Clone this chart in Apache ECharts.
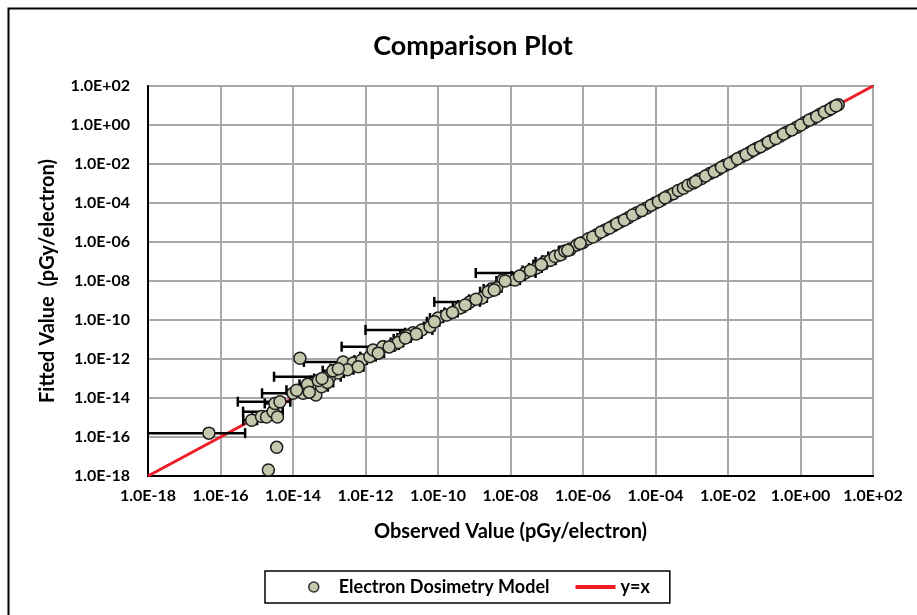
<!DOCTYPE html>
<html>
<head>
<meta charset="utf-8">
<script src="https://cdn.jsdelivr.net/npm/echarts@6/dist/echarts.min.js"></script>
<style>
html,body{margin:0;padding:0;background:#fff;}
#chart{width:917px;height:615px;}
</style>
</head>
<body>
<div id="chart"></div>
<script>
// Observed values (pGy/electron)
const observed = [
  4.79e-17, 7.24e-16, 1.35e-15, 1.86e-15, 2.82e-15, 3.16e-15, 4.37e-15, 3.72e-15,
  1.0e-14, 1.91e-14, 3.55e-14, 4.27e-14, 3.55e-15, 2.09e-15, 1.55e-14,
  1.05e-13, 1.74e-13, 6.17e-14, 2.40e-13, 4.57e-13, 7.94e-13, 1.32e-12, 1.62e-12,
  3.02e-12, 5.75e-12, 1.0e-11, 2.04e-11, 3.55e-11, 6.03e-11, 1.0e-10, 1.74e-10,
  4.07e-10, 7.59e-10, 1.62e-9, 3.02e-9, 6.17e-9, 1.32e-8, 2.51e-8, 5.25e-8,
  1.26e-14, 2.51e-14, 5.01e-14, 8.91e-14, 1.26e-13, 3.16e-13, 6.31e-13, 2.24e-12,
  7.94e-12, 1.41e-11, 2.51e-11, 4.17e-9, 2.45e-9, 7.08e-9,
  8.91e-8, 1.26e-7, 1.70e-7, 2.40e-7, 3.16e-7, 4.47e-7, 6.76e-7, 1.0e-6, 1.41e-6,
  2.40e-6, 4.07e-6, 6.92e-6, 1.05e-5, 1.78e-5, 3.02e-5, 5.75e-5, 9.77e-5, 1.48e-4,
  2.24e-4, 3.09e-4, 4.27e-4, 5.89e-4, 7.94e-4, 1.10e-3, 1.51e-3, 1.86e-3, 3.16e-3,
  5.37e-3, 8.32e-3, 1.41e-2, 2.40e-2, 4.07e-2, 6.17e-2, 1.05e-1, 1.58e-1, 2.69e-1,
  4.17e-1, 7.94e-1, 1.32, 2.24, 3.47, 5.89, 8.13, 11.0,
  3.80e-7, 8.32e-7, 1.86e-6, 3.16e-6, 5.37e-6, 8.51e-6, 1.38e-5, 2.34e-5, 4.17e-5,
  7.59e-5, 1.20e-4, 1.82e-4, 1.29e-3, 2.40e-3, 4.17e-3, 6.61e-3, 1.10e-2, 1.82e-2,
  3.16e-2, 5.01e-2, 7.94e-2, 1.29e-1, 2.09e-1, 3.39e-1, 5.75e-1, 1.02, 1.74, 2.82,
  4.57, 6.92, 9.55,
  1.12e-9, 3.55e-9, 1.78e-8, 3.55e-8, 7.08e-8,
  4.47e-12, 1.26e-11, 7.94e-11, 2.51e-10, 5.62e-10,
  2.82e-14, 6.31e-14, 1.78e-13
];
// Fitted values (pGy/electron)
const fitted = [
  1.58e-16, 7.24e-16, 1.12e-15, 1.05e-15, 2.0e-15, 5.25e-15, 6.46e-15, 1.07e-15,
  1.74e-14, 1.74e-14, 3.24e-14, 1.41e-14, 2.95e-17, 2.04e-18, 1.10e-12,
  1.23e-13, 1.91e-13, 3.80e-14, 7.08e-13, 6.17e-13, 8.91e-13, 1.32e-12, 2.88e-12,
  4.27e-12, 5.25e-12, 1.07e-11, 2.24e-11, 3.09e-11, 4.57e-11, 1.26e-10, 1.82e-10,
  4.17e-10, 8.5e-10, 1.35e-9, 3.89e-9, 1.12e-8, 1.12e-8, 2.57e-8, 4.68e-8,
  2.51e-14, 5.01e-14, 7.94e-14, 6.31e-14, 2.51e-13, 2.82e-13, 3.98e-13, 2.0e-12,
  7.08e-12, 1.58e-11, 1.91e-11, 4.47e-9, 2.82e-9, 1.0e-8,
  9.55e-8, 1.17e-7, 1.82e-7, 2.24e-7, 3.47e-7, 4.27e-7, 7.08e-7, 9.55e-7, 1.48e-6,
  2.34e-6, 4.17e-6, 6.76e-6, 1.07e-5, 1.74e-5, 3.09e-5, 5.62e-5, 1.0e-4, 1.45e-4,
  2.29e-4, 3.02e-4, 4.37e-4, 5.75e-4, 8.13e-4, 1.07e-3, 1.55e-3, 1.82e-3, 3.24e-3,
  5.25e-3, 8.51e-3, 1.38e-2, 2.45e-2, 3.98e-2, 6.31e-2, 1.02e-1, 1.62e-1, 2.63e-1,
  4.27e-1, 7.76e-1, 1.35, 2.19, 3.55, 5.75, 8.32, 11.0,
  3.72e-7, 8.51e-7, 1.82e-6, 3.24e-6, 5.25e-6, 8.71e-6, 1.35e-5, 2.40e-5, 4.07e-5,
  7.76e-5, 1.17e-4, 1.86e-4, 1.26e-3, 2.45e-3, 4.07e-3, 6.76e-3, 1.07e-2, 1.86e-2,
  3.09e-2, 5.13e-2, 7.76e-2, 1.32e-1, 2.04e-1, 3.47e-1, 5.62e-1, 1.0, 1.78, 2.75,
  4.68, 6.76, 9.77,
  1.15e-9, 3.47e-9, 1.82e-8, 3.47e-8, 6.92e-8,
  4.17e-12, 1.20e-11, 8.13e-11, 2.45e-10, 5.89e-10,
  2.0e-14, 1.0e-13, 3.16e-13
];
// Uncertainty of observed value (+/-, same units); 0 = no bar
const obsError = [
  4.3e-16, 3.0e-16, 6.0e-16, 0, 2.4e-15, 1.5e-15, 4.07e-15, 0,
  8.6e-15, 8.0e-15, 1.5e-14, 0, 0, 0, 0,
  1.02e-13, 8.0e-14, 3.0e-14, 2.2e-13, 2.0e-13, 3.0e-13, 6.0e-13, 0,
  2.8e-12, 2.5e-12, 4.0e-12, 8.0e-12, 3.45e-11, 2.0e-11, 4.0e-11, 5.0e-11,
  1.5e-10, 6.8e-10, 6.0e-10, 1.2e-9, 0, 5.0e-9, 2.4e-8, 2.0e-8,
  6.0e-15, 1.0e-14, 2.0e-14, 4.0e-14, 6.0e-14, 1.5e-13, 2.5e-13, 1.0e-12,
  3.0e-12, 5.0e-12, 1.0e-11, 1.5e-9, 1.0e-9, 3.0e-9,
  4.0e-8, 5.0e-8, 6.0e-8, 8.0e-8, 1.0e-7, 0, 0, 0, 0,
  0, 0, 0, 0, 0, 0, 0, 0, 0,
  0, 0, 0, 0, 0, 0, 0, 0, 0,
  0, 0, 0, 0, 0, 0, 0, 0, 0,
  0, 0, 0, 0, 0, 0, 0, 0,
  1.5e-7, 0, 0, 0, 0, 0, 0, 0, 0,
  0, 0, 0, 0, 0, 0, 0, 0, 0,
  0, 0, 0, 0, 0, 0, 0, 0, 0, 0,
  0, 0, 0,
  4.0e-10, 1.2e-9, 7.0e-9, 1.4e-8, 2.8e-8,
  1.8e-12, 5.0e-12, 3.0e-11, 1.0e-10, 2.0e-10,
  1.2e-14, 2.5e-14, 7.0e-14
];
// y = x reference line end points
const identityLine = [1e-18, 1e2];
const axisMin = 1e-18, axisMax = 1e2;

const points = observed.map((v, i) => [v, fitted[i]]);
const bars = observed.map((v, i) => [v, fitted[i], obsError[i] || 0]);
const lineData = identityLine.map(v => [v, v]);

function fmt(v) {
  const e = Math.round(Math.log10(v));
  const a = Math.abs(e);
  return '1.0E' + (e < 0 ? '-' : '+') + (a < 10 ? '0' : '') + a;
}

const FONT = 'Lato';
const chart = echarts.init(document.getElementById('chart'), null, {renderer: 'canvas'});
chart.setOption({
  backgroundColor: '#ffffff',
  animation: false,
  title: {
    text: 'Comparison Plot',
    left: 468, top: 28, textAlign: 'center',
    textStyle: {fontFamily: FONT, fontWeight: 'bold', fontSize: 27, color: '#000'}
  },
  graphic: [{
    type: 'rect', left: 6, top: 6, z: 100,
    shape: {width: 960, height: 660},
    style: {fill: 'none', stroke: '#000', lineWidth: 2}
  }],
  legend: {
    left: 265, top: 571,
    padding: [7, 20, 7, 43],
    borderColor: '#000', borderWidth: 1.5,
    itemWidth: 40, itemHeight: 10, itemGap: 26,
    symbolKeepAspect: true,
    textStyle: {fontFamily: FONT, fontWeight: 'bold', fontSize: 18, color: '#000'},
    data: [
      {name: 'Electron Dosimetry Model', icon: 'circle',
       itemStyle: {color: '#c6c8ae', borderColor: '#333', borderWidth: 1.5}},
      {name: 'y=x', icon: 'path://M0,0h40v4h-40z', itemStyle: {color: '#ee1c25'}}
    ]
  },
  grid: {left: 148, right: 44, top: 86, bottom: 139, show: true,
         borderColor: '#000', borderWidth: 2, backgroundColor: 'transparent'},
  xAxis: {
    type: 'log', logBase: 100, min: axisMin, max: axisMax, interval: 1,
    name: 'Observed Value (pGy/electron)', nameLocation: 'middle', nameGap: 46,
    nameTextStyle: {fontFamily: FONT, fontWeight: 'bold', fontSize: 20, color: '#000'},
    axisLine: {lineStyle: {color: '#000', width: 2}},
    axisTick: {show: false},
    axisLabel: {formatter: fmt, margin: 12, showMinLabel: true, showMaxLabel: true,
                fontFamily: FONT, fontWeight: 'bold', fontSize: 16, color: '#000'},
    splitLine: {show: true, lineStyle: {color: '#a8a8a8', width: 2}}
  },
  yAxis: {
    type: 'log', logBase: 100, min: axisMin, max: axisMax, interval: 1,
    name: 'Fitted Value  (pGy/electron)', nameLocation: 'middle', nameGap: 90,
    nameTextStyle: {fontFamily: FONT, fontWeight: 'bold', fontSize: 20, color: '#000'},
    axisLine: {lineStyle: {color: '#000', width: 2}},
    axisTick: {show: false},
    axisLabel: {formatter: fmt, margin: 18, showMinLabel: true, showMaxLabel: true,
                fontFamily: FONT, fontWeight: 'bold', fontSize: 16, color: '#000'},
    splitLine: {show: true, lineStyle: {color: '#a8a8a8', width: 2}}
  },
  series: [
    {
      name: 'y=x', type: 'line', data: lineData, symbol: 'none', z: 1,
      lineStyle: {color: '#ee1c25', width: 3}, itemStyle: {color: '#ee1c25'}
    },
    {
      name: 'Electron Dosimetry Model', type: 'custom', data: bars, z: 2,
      encode: {x: 0, y: 1},
      renderItem: function (params, api) {
        const x = api.value(0), y = api.value(1), e = api.value(2);
        if (!e) return null;
        const cs = params.coordSys;
        const hi = api.coord([x + e, y]);
        const left = x - e;
        let lx = cs.x, cap = false;
        if (left > 0) {
          const lo = api.coord([left, y]);
          if (lo[0] >= cs.x) { lx = lo[0]; cap = true; }
        }
        const st = {stroke: '#000', lineWidth: 2.5};
        const ch = [{type: 'line', shape: {x1: lx, y1: hi[1], x2: hi[0], y2: hi[1]}, style: st},
                    {type: 'line', shape: {x1: hi[0], y1: hi[1] - 5, x2: hi[0], y2: hi[1] + 5}, style: st}];
        if (cap) ch.push({type: 'line', shape: {x1: lx, y1: hi[1] - 5, x2: lx, y2: hi[1] + 5}, style: st});
        return {type: 'group', children: ch};
      }
    },
    {
      name: 'Electron Dosimetry Model', type: 'scatter', data: points, z: 3,
      symbol: 'circle', symbolSize: 12,
      itemStyle: {color: '#c6c8ae', borderColor: '#1e1e1e', borderWidth: 1.5, opacity: 1}
    }
  ]
});
</script>
</body>
</html>
